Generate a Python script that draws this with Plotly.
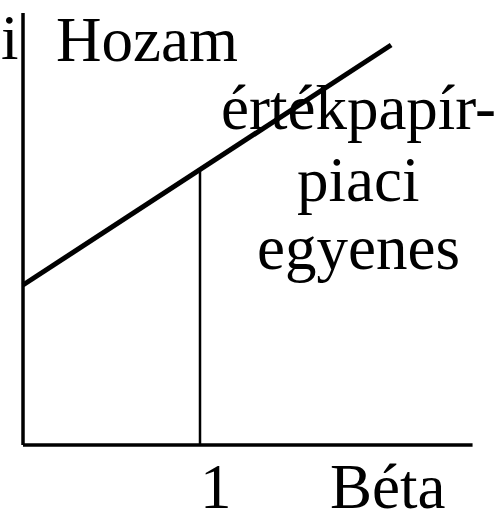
import plotly.graph_objects as go

# -------------------------------------
# DATA
# -------------------------------------
# security market line (beta -> expected return)
sml_beta = [0.0, 2.08]
sml_return = [4.0, 10.0]

# market portfolio marker line at beta = 1
market_beta = [1.0, 1.0]
market_return = [0.0, 6.9]

# axis extents
axis_beta = [0.0, 2.54]
axis_return = [0.0, 10.8]

# labels: (text, beta, return)
labels = [
    ("i", -0.073, 10.17),
    ("Hozam", 0.703, 10.12),
    ("értékpapír-", 1.893, 8.42),
    ("piaci", 1.893, 6.62),
    ("egyenes", 1.893, 4.92),
    ("1", 1.09, -1.06),
    ("Béta", 2.06, -1.06),
]

FONT = "Liberation Serif, Times New Roman, serif"

# -------------------------------------
# FIGURE
# -------------------------------------
fig = go.Figure()

# axes drawn as plain lines
fig.add_trace(go.Scatter(x=[axis_beta[0], axis_beta[0]], y=axis_return,
                         mode="lines", line=dict(color="black", width=3.5)))
fig.add_trace(go.Scatter(x=axis_beta, y=[axis_return[0], axis_return[0]],
                         mode="lines", line=dict(color="black", width=3.5)))

# beta = 1 vertical
fig.add_trace(go.Scatter(x=market_beta, y=market_return,
                         mode="lines", line=dict(color="black", width=2.5)))

# SML
fig.add_trace(go.Scatter(x=sml_beta, y=sml_return,
                         mode="lines", line=dict(color="black", width=5)))

for text, bx, ry in labels:
    fig.add_annotation(x=bx, y=ry, text=text, showarrow=False,
                       xanchor="center", yanchor="middle",
                       font=dict(family=FONT, size=63, color="black"))

fig.update_layout(
    width=503, height=516,
    margin=dict(l=0, r=0, t=0, b=0),
    plot_bgcolor="white", paper_bgcolor="white",
    showlegend=False,
)
fig.update_xaxes(range=[-0.13, 2.712], visible=False)
fig.update_yaxes(range=[-1.775, 11.125], visible=False)

# drop the default page margin so the figure sits at the window corner
fig.write_html("out.html", config={"displayModeBar": False},
               post_script="document.body.style.margin='0';")
